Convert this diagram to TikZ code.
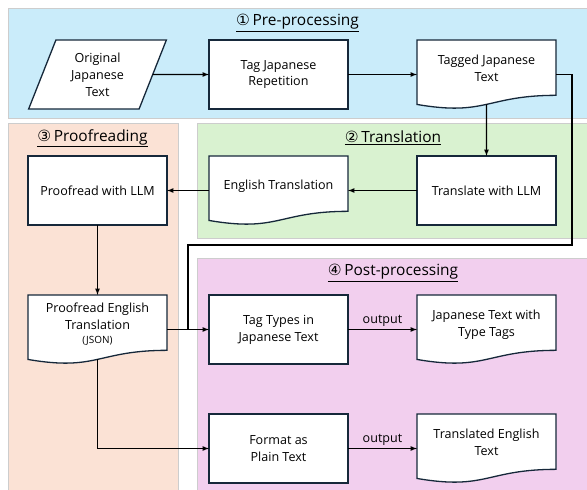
\documentclass[tikz,border=0pt]{standalone}
\usepackage{fontspec}
\setmainfont{Open Sans}
\newfontfamily\circfont{DejaVu Sans}
\usepackage{tikz}
\usetikzlibrary{calc}
\usetikzlibrary{arrows}
\usetikzlibrary{shapes.geometric}

\definecolor{preblue}{RGB}{202,236,250}
\definecolor{transgreen}{RGB}{217,242,208}
\definecolor{proofpeach}{RGB}{251,226,213}
\definecolor{postpink}{RGB}{242,207,238}
\definecolor{panelgray}{RGB}{205,205,205}
\definecolor{boxedge}{RGB}{22,40,58}

\pgfdeclarelayer{panels}
\pgfdeclarelayer{docs}
\pgfsetlayers{panels,docs,main}

\tikzset{
  panel/.style={draw=panelgray,line width=0.8bp},
  phase/.style={font=\fontsize{15.5}{18}\selectfont},
  proc/.style={draw=boxedge,fill=white,line width=1.3bp,outer sep=0pt,
    minimum width=139bp,minimum height=69bp,inner sep=2bp,align=center,
    font=\fontsize{12.6}{17}\selectfont},
  doc/.style={proc,draw=none,fill=none,text depth=12bp},
  docedge/.style={draw=boxedge,fill=white,line width=1.3bp},
  flow/.style={-latex,line width=1.2bp},
  lbl/.style={font=\fontsize{12.6}{14}\selectfont,inner sep=2bp},
}

% document shape with a wavy lower edge
\newcommand\docshape[1]{%
  \begin{pgfonlayer}{docs}
    \filldraw[docedge] (#1.north west) -- (#1.north east)
      -- ($(#1.north east)!0.802!(#1.south east)$)
      .. controls ($(#1.north)!0.802!(#1.south)$) and ($(#1.north)!1.1075!(#1.south)$)
      .. ($(#1.north west)!0.934!(#1.south west)$) -- cycle;
  \end{pgfonlayer}
  \coordinate (#1-wave) at ($(#1.north)!0.933!(#1.south)$);}

\begin{document}
\begin{tikzpicture}[x=1bp,y=-1bp]
  % Constants
  \pgfmathsetmacro\colA{97.5}
  \pgfmathsetmacro\colB{278.5}
  \pgfmathsetmacro\colC{486.5}
  \pgfmathsetmacro\rowA{74.5}
  \pgfmathsetmacro\rowB{190.5}
  \pgfmathsetmacro\rowC{329.5}
  \pgfmathsetmacro\rowD{448.5}
  % Boundary
  \path[use as bounding box] (0,0) rectangle (587,490);
  % Panels
  \begin{pgfonlayer}{panels}
    \filldraw[panel,fill=preblue] (8,8) rectangle (595,118);
    \filldraw[panel,fill=proofpeach] (8,123) rectangle (178,500);
    \filldraw[panel,fill=transgreen] (197,123) rectangle (595,238);
    \filldraw[panel,fill=postpink] (197,258) rectangle (595,500);
  \end{pgfonlayer}
  \node[phase] (pretitle) at (297.5,23) {\underline{{\circfont ①}\,Pre-processing}};
  \node[phase] (transtitle) at (393,138) {\underline{{\circfont ②}\,Translation}};
  \node[phase] (prooftitle) at (92.5,138) {\underline{{\circfont ③}\,Proofreading}};
  \node[phase] (posttitle) at (393,273) {\underline{{\circfont ④}\,Post-processing}};
  % Pre-processing
  \node[proc,trapezium,trapezium stretches=true,trapezium left angle=68.6,
    trapezium right angle=111.4] (orig) at (\colA,\rowA) {Original\\Japanese\\Text};
  \node[proc] (tagrep) at (\colB,\rowA) {Tag Japanese\\Repetition};
  \node[doc] (tagged) at (\colC,\rowA) {Tagged Japanese\\Text};
  \docshape{tagged}
  % Translation
  \node[proc] (translate) at (\colC,\rowB) {Translate with LLM};
  \node[doc] (entrans) at (\colB,\rowB) {English Translation};
  \docshape{entrans}
  % Proofreading
  \node[proc] (proofllm) at (\colA,\rowB) {Proofread with LLM};
  \node[doc] (proofeng) at (\colA,\rowC) {Proofread English\\Translation\\[-3bp]{\fontsize{10}{12}\selectfont(JSON)}};
  \docshape{proofeng}
  % Post-processing
  \node[proc] (tagtypes) at (\colB,\rowC) {Tag Types in\\Japanese Text};
  \node[doc] (jptags) at (\colC,\rowC) {Japanese Text with\\Type Tags};
  \docshape{jptags}
  \node[proc] (plain) at (\colB,\rowD) {Format as\\Plain Text};
  \node[doc] (entext) at (\colC,\rowD) {Translated English\\Text};
  \docshape{entext}
  % Connectors
  \coordinate (bend) at (572,245);
  \coordinate (merge) at (188,\rowC);
  \draw[flow] (orig.east) -- (tagrep.west);
  \draw[flow] (tagrep.east) -- (tagged.west);
  \draw[flow] (tagged-wave) -- (translate.north);
  \draw[flow] (translate.west) -- (entrans.east);
  \draw[flow] (entrans.west) -- (proofllm.east);
  \draw[flow] (proofllm.south) -- (proofeng.north);
  \draw[line width=1.2bp] (tagged.east) -| (bend) -| (merge);
  \draw[flow] (proofeng.east) -- (tagtypes.west);
  \draw[flow] (proofeng-wave) |- (plain.west);
  \draw[flow] (tagtypes.east) -- node[lbl,above] (outtags) {output} (jptags.west);
  \draw[flow] (plain.east) -- node[lbl,above] (outplain) {output} (entext.west);
\end{tikzpicture}
\end{document}
